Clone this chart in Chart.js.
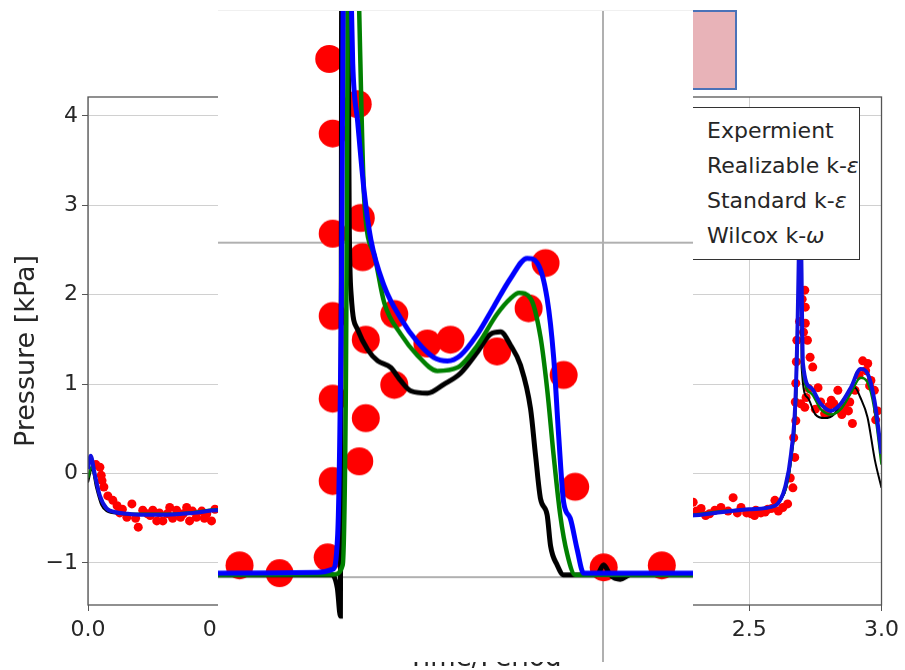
<!DOCTYPE html>
<html>
<head>
<meta charset="utf-8">
<script src="https://cdn.jsdelivr.net/npm/chart.js@4"></script>
<style>
  body { margin: 0; background: #fff; }
  #wrap { position: relative; width: 905px; height: 670px; overflow: hidden; background: #fff; }
  #main { position: absolute; left: 0; top: 0; }
  #legend {
    position: absolute; left: 645px; top: 107px; width: 215px; height: 153px;
    box-sizing: border-box; border: 1.5px solid #333; background: #fff;
    padding: 5px 0 0 61px; font: 22px "DejaVu Sans"; line-height: 35px; color: #262626;
    z-index: 1;
  }
  #inset {
    position: absolute; left: 218px; top: 10px; background: #fff;
    border-top: 1px solid #f0f0f0; z-index: 2;
  }
  #pink {
    position: absolute; left: 693px; top: 10px; width: 42px; height: 76px;
    background: #e8b3b8; border: 2px solid #4a72b8; border-left: none; z-index: 3;
  }
</style>
</head>
<body>
<div id="wrap">
  <canvas id="main" width="905" height="670"></canvas>
  <div id="legend">
    <div>Expermient</div>
    <div>Realizable k-<i>ε</i></div>
    <div>Standard k-<i>ε</i></div>
    <div>Wilcox k-<i>ω</i></div>
  </div>
  <canvas id="inset" width="475" height="652"></canvas>
  <div id="pink"></div>
</div>
<script>
// main plot: pressure over time/period
const xTicks = [0, 0.5, 1.0, 1.5, 2.0, 2.5, 3.0];
const yTicks = [-1, 0, 1, 2, 3, 4];

const expTime = [0.030,0.045,0.050,0.053,0.060,0.075,0.094,0.110,0.130,0.147,0.166,0.190,0.207,0.225,0.245,0.260,0.283,0.300,0.309,0.335,0.350,0.373,0.384,0.410,0.430,0.449,0.467,0.480,
  0.120,0.180,0.235,0.270,0.320,0.360,0.395,0.440,
  2.288,2.318,2.350,2.393,2.420,2.439,2.469,2.490,2.507,2.525,2.544,2.570,2.597,2.610,2.627,2.645,2.665,2.672,2.676,2.676,2.680,2.695,2.710,2.712,2.712,2.720,2.730,2.740,2.710,2.760,
  2.785,2.800,2.810,2.835,2.845,2.860,2.875,2.890,2.900,2.915,2.929,2.948,2.960,2.973,2.985,
  2.300,2.335,2.370,2.455,2.520,2.560,2.585,2.655,2.668,2.674,2.678,2.690,2.700,2.705,2.715,2.725,2.750,2.770,2.795,2.820,2.850,2.880,2.940,2.955,2.978];
const expPressure = [0.10,0.07,-0.02,-0.08,-0.15,-0.25,-0.30,-0.36,-0.40,-0.49,-0.34,-0.60,-0.41,-0.45,-0.41,-0.53,-0.53,-0.45,-0.38,-0.41,-0.49,-0.38,-0.53,-0.49,-0.42,-0.45,-0.53,-0.40,
  -0.44,-0.50,-0.47,-0.44,-0.50,-0.45,-0.42,-0.50,
  -0.32,-0.39,-0.45,-0.38,-0.42,-0.27,-0.38,-0.44,-0.45,-0.41,-0.44,-0.40,-0.30,-0.42,-0.38,-0.34,-0.16,0.18,0.59,1.01,1.49,0.78,2.05,1.86,1.68,1.49,1.30,1.19,0.74,0.96,
  0.67,0.75,0.82,0.93,0.70,0.74,0.70,0.56,0.93,1.10,1.26,1.23,1.04,0.93,0.70,
  -0.42,-0.47,-0.41,-0.44,-0.47,-0.43,-0.39,-0.05,0.40,0.80,1.25,1.70,1.95,1.58,0.85,0.95,0.72,0.80,0.68,0.78,0.66,0.80,1.15,0.98,0.60];

const wilcoxTime = [0,0.010,0.025,0.045,0.070,0.100,0.150,0.200,0.300,0.400,0.490,1.000,1.800,2.280,2.400,2.500,2.597,2.620,2.635,2.658,2.676,2.687,2.692,2.697,2.703,2.733,2.770,2.808,2.846,2.884,2.921,2.947,2.973,3.000];
const wilcoxPressure = [0.05,0.20,0.00,-0.25,-0.39,-0.43,-0.45,-0.46,-0.46,-0.44,-0.41,-0.45,-0.50,-0.47,-0.43,-0.40,-0.36,-0.28,-0.16,0.22,0.93,2.38,3.60,2.40,1.23,0.96,0.78,0.70,0.78,0.96,1.17,1.12,0.82,0.22];

const standardTime = [0,0.015,0.030,0.050,0.075,0.120,0.200,0.300,0.400,0.490,1.000,1.800,2.280,2.400,2.500,2.597,2.620,2.640,2.660,2.678,2.688,2.693,2.698,2.703,2.733,2.770,2.808,2.846,2.884,2.921,2.947,2.973,3.000];
const standardPressure = [-0.05,0.08,-0.10,-0.30,-0.40,-0.44,-0.45,-0.45,-0.43,-0.40,-0.45,-0.50,-0.46,-0.42,-0.40,-0.36,-0.29,-0.15,0.20,0.90,2.30,3.40,2.20,1.15,0.90,0.72,0.66,0.72,0.90,1.07,1.02,0.72,0.10];

const realizableTime = [0,0.015,0.030,0.050,0.070,0.120,0.200,0.300,0.400,0.490,1.000,1.800,2.280,2.400,2.500,2.597,2.620,2.640,2.660,2.678,2.688,2.693,2.698,2.720,2.750,2.785,2.820,2.860,2.900,2.920,2.947,2.975,3.000];
const realizablePressure = [-0.10,0.05,-0.15,-0.35,-0.42,-0.45,-0.46,-0.46,-0.44,-0.41,-0.45,-0.50,-0.47,-0.43,-0.40,-0.36,-0.29,-0.16,0.20,0.90,2.30,3.40,1.19,0.85,0.66,0.62,0.66,0.85,0.96,0.85,0.63,0.15,-0.16];

// inset (zoomed cycle), own units
const insetXTicks = [1];
const insetYTicks = [-1, 2];

const insetExpTime = [0.056,0.160,0.285,0.289,0.363,0.298,0.371,0.298,0.376,0.298,0.458,0.384,0.544,0.604,0.458,0.298,0.384,0.367,0.298,0.725,0.807,0.851,0.898,0.928,1.002,1.153];
const insetExpPressure = [-0.894,-0.965,-0.824,3.648,3.243,2.979,2.222,2.081,1.870,1.342,1.359,1.130,1.095,1.130,0.725,0.602,0.426,0.039,-0.137,1.025,1.412,1.817,0.813,-0.190,-0.912,-0.894];

const insetWilcoxTime = [0,0.259,0.298,0.311,0.320,0.330,0.341,0.350,0.363,0.380,0.397,0.432,0.475,0.518,0.561,0.596,0.630,0.674,0.717,0.760,0.803,0.829,0.855,0.872,0.885,0.898,0.915,0.933,0.950,1.244];
const insetWilcoxPressure = [-0.965,-0.958,-0.930,-0.613,1.324,6.0,5.0,3.61,3.08,2.45,2.03,1.61,1.32,1.11,0.97,0.94,0.99,1.18,1.43,1.68,1.86,1.82,1.50,0.97,0.27,-0.33,-0.47,-0.75,-0.965,-0.965];

const insetStandardTime = [0,0.302,0.324,0.332,0.341,0.354,0.366,0.380,0.406,0.432,0.475,0.518,0.570,0.622,0.674,0.725,0.760,0.782,0.812,0.838,0.855,0.872,0.889,0.907,0.928,1.244];
const insetStandardPressure = [-0.98,-0.975,-0.89,0.62,6.0,6.0,4.2,2.38,1.89,1.46,1.18,0.99,0.85,0.88,1.08,1.36,1.50,1.55,1.50,1.15,0.69,0.09,-0.44,-0.79,-0.98,-0.98];

const insetRealizableTime = [0,0.296,0.310,0.318,0.320,0.322,0.334,0.341,0.346,0.363,0.389,0.415,0.449,0.475,0.501,0.544,0.587,0.630,0.674,0.708,0.734,0.760,0.786,0.812,0.825,0.838,0.855,0.864,0.881,0.898,0.984,1.002,1.019,1.045,1.071,1.244];
const insetRealizablePressure = [-0.98,-0.98,-1.10,-1.35,1.0,6.0,6.0,2.17,1.53,1.22,1.04,0.94,0.88,0.76,0.67,0.65,0.73,0.83,1.02,1.18,1.20,1.08,0.90,0.51,0.09,-0.30,-0.44,-0.72,-0.89,-0.98,-0.98,-0.89,-0.98,-1.02,-0.98,-0.98];

const pts = (xs, ys) => xs.map((x, i) => ({ x: x, y: ys[i] }));
const fixTicks = (list) => (scale) => { scale.ticks = list.map(v => ({ value: v })); };

const frame = {
	id: 'frame',
	afterDraw(chart) {
		const { ctx, chartArea: a } = chart;
		ctx.save();
		ctx.strokeStyle = '#555';
		ctx.lineWidth = 1.3;
		ctx.strokeRect(a.left, a.top, a.right - a.left, a.bottom - a.top);
		ctx.restore();
	},
};

const tickFont = { family: 'DejaVu Sans', size: 22 };
const smooth = { showLine: true, pointRadius: 0, cubicInterpolationMode: 'monotone' };

new Chart(document.getElementById('main').getContext('2d'), {
	type: 'scatter',
	data: {
		datasets: [
			{ ...smooth, label: 'Wilcox k-ω', data: pts(wilcoxTime, wilcoxPressure), borderColor: '#1010e0', borderWidth: 4, order: 0 },
			{ ...smooth, label: 'Standard k-ε', data: pts(standardTime, standardPressure), borderColor: '#008000', borderWidth: 2.5, order: 1 },
			{ ...smooth, label: 'Realizable k-ε', data: pts(realizableTime, realizablePressure), borderColor: '#000000', borderWidth: 2, order: 2 },
			{ label: 'Expermient', data: pts(expTime, expPressure), backgroundColor: '#ff0000', borderWidth: 0, pointRadius: 4.5, order: 3 },
		],
	},
	options: {
		responsive: false,
		animation: false,
		layout: { autoPadding: false, padding: { top: 97, right: 21, left: 0, bottom: 0 } },
		plugins: { legend: { display: false }, tooltip: { enabled: false } },
		scales: {
			x: {
				min: 0, max: 3,
				afterBuildTicks: fixTicks(xTicks),
				afterFit: (s) => { s.height = 65; },
				ticks: { font: tickFont, color: '#262626', padding: 6, maxRotation: 0, callback: (v) => v.toFixed(1) },
				grid: { color: '#d0d0d0', tickColor: '#555', tickLength: 6 },
				border: { display: false },
				title: { display: true, text: 'Time/Period', font: { family: 'DejaVu Sans', size: 26 }, color: '#262626', padding: { top: -5, bottom: -5 } },
			},
			y: {
				min: -1.47, max: 4.21,
				afterBuildTicks: fixTicks(yTicks),
				afterFit: (s) => { s.width = 88; },
				ticks: { font: tickFont, color: '#262626', padding: 4, callback: (v) => String(v).replace('-', '\u2212') },
				grid: { color: '#d0d0d0', tickColor: '#555', tickLength: 6 },
				border: { display: false },
				title: { display: true, text: 'Pressure [kPa]', font: { family: 'DejaVu Sans', size: 27 }, color: '#262626', padding: { top: 11, bottom: 11 } },
			},
		},
	},
	plugins: [frame],
});

// inset drawn on top of the middle of the main plot
new Chart(document.getElementById('inset').getContext('2d'), {
	type: 'scatter',
	data: {
		datasets: [
			{ ...smooth, data: pts(insetWilcoxTime, insetWilcoxPressure), borderColor: '#0000ff', borderWidth: 5, order: 0 },
			{ ...smooth, data: pts(insetStandardTime, insetStandardPressure), borderColor: '#008000', borderWidth: 4.5, order: 1 },
			{ ...smooth, data: pts(insetRealizableTime, insetRealizablePressure), borderColor: '#000000', borderWidth: 5, order: 2 },
			{ data: pts(insetExpTime, insetExpPressure), backgroundColor: '#ff0000', borderWidth: 0, pointRadius: 14, order: 3 },
		],
	},
	options: {
		responsive: false,
		animation: false,
		layout: { autoPadding: false, padding: 0 },
		plugins: { legend: { display: false }, tooltip: { enabled: false } },
		scales: {
			x: {
				min: 0, max: 1.234,
				afterBuildTicks: fixTicks(insetXTicks),
				afterFit: (s) => { s.height = 0; },
				ticks: { display: false },
				grid: { color: '#b0b0b0', lineWidth: 2, drawTicks: false },
				border: { display: false },
			},
			y: {
				min: -1.761, max: 4.078,
				afterBuildTicks: fixTicks(insetYTicks),
				afterFit: (s) => { s.width = 0; },
				ticks: { display: false },
				grid: { color: '#b0b0b0', lineWidth: 2, drawTicks: false },
				border: { display: false },
			},
		},
	},
});
</script>
</body>
</html>
